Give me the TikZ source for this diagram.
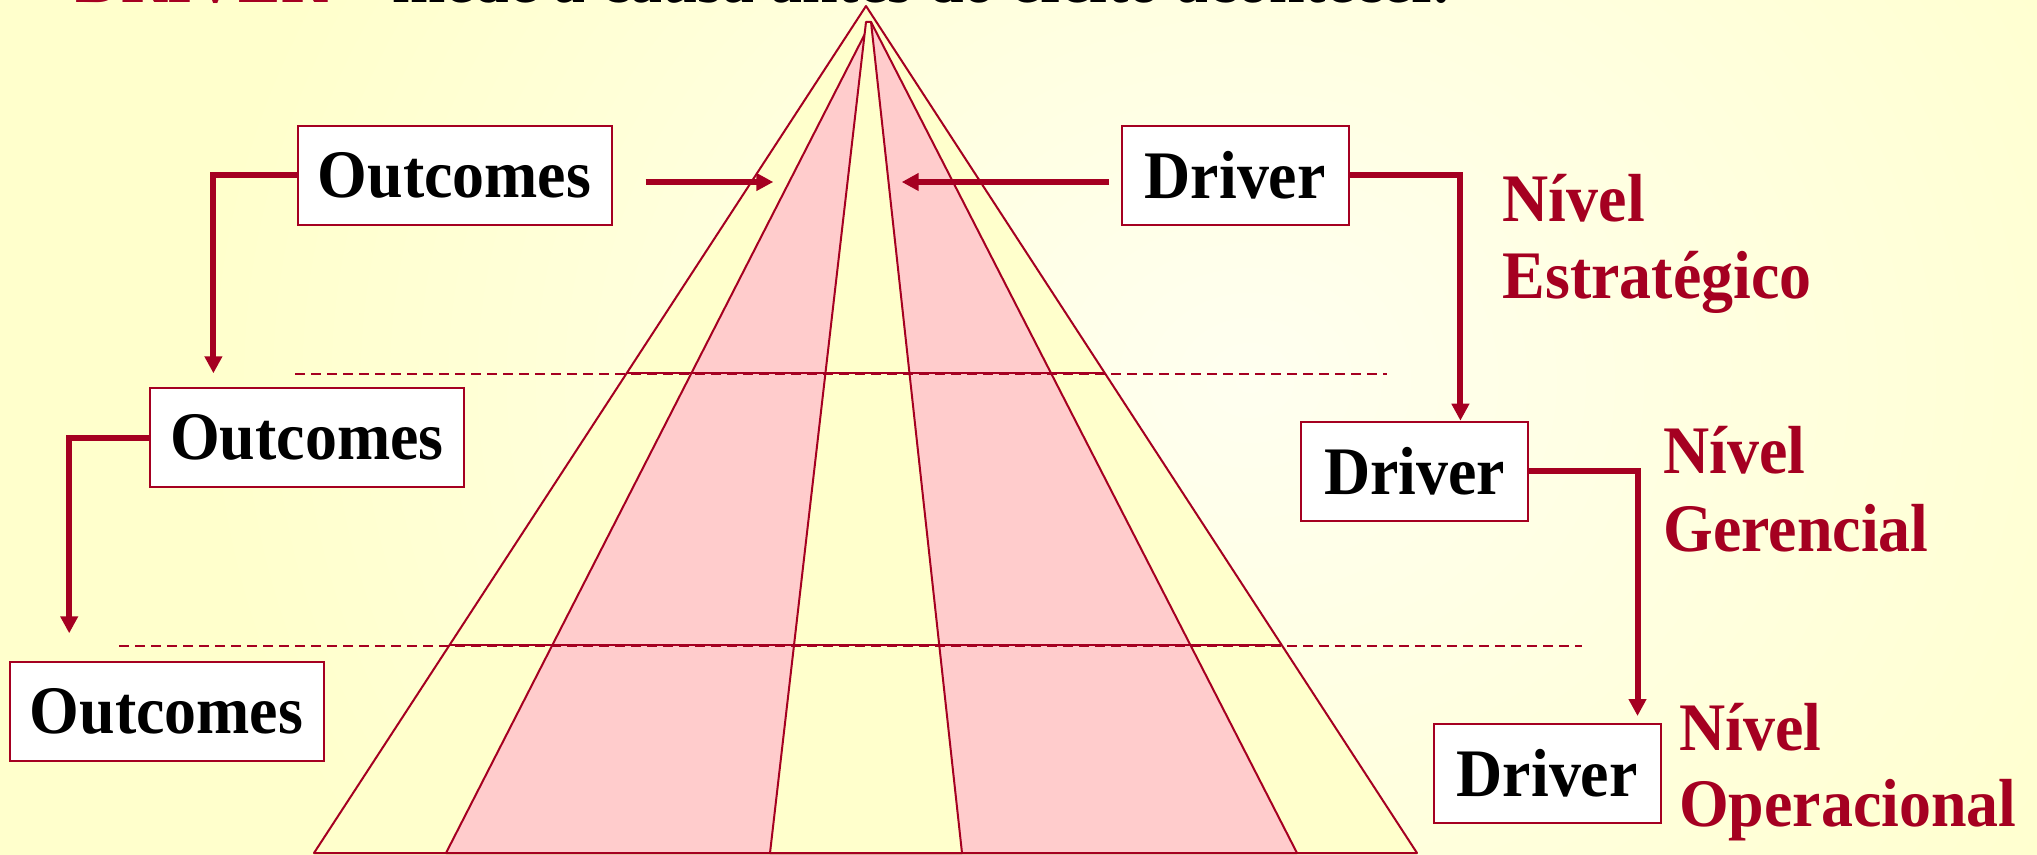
\documentclass[tikz,border=0pt]{standalone}
\usepackage{fontspec}
\setmainfont{Liberation Serif}
\usetikzlibrary{arrows.meta,calc}
\definecolor{dred}{RGB}{165,0,33}
\definecolor{pinkfill}{RGB}{255,204,204}
\definecolor{yelfill}{RGB}{255,255,204}
\definecolor{bgwhite}{RGB}{255,255,240}
\newcommand{\myfont}{\bfseries\fontsize{34}{40}\selectfont}
\newcommand{\txt}[1]{\scalebox{0.94}[1]{#1}}
\begin{document}
\begin{tikzpicture}[x=0.5pt,y=-0.5pt,
  pyr/.style={draw=dred,line width=1pt,line join=round},
  box/.style={draw=dred,line width=1pt,fill=white,inner sep=0pt,font=\myfont},
  obox/.style={box,minimum width=157pt,minimum height=49.5pt},
  dbox/.style={box,minimum width=113.4pt,minimum height=49.5pt},
  conn/.style={draw=dred,line width=3pt,-{Triangle[length=8.5pt,width=8.5pt]}},
  lvl/.style={anchor=base west,inner sep=0pt,text=dred,font=\myfont},
  solidlvl/.style={draw=dred,line width=1pt},
  dashlvl/.style={draw=dred,line width=1pt,dash pattern=on 5pt off 3pt}]
\useasboundingbox (0,0) rectangle (2037,855);
\begin{scope}
\clip (0,0) rectangle (2037,855);
% background
\fill[yelfill] (0,0) rectangle (2037,855);
\shade[inner color=bgwhite,outer color=yelfill] (1250,380) ellipse [x radius=1050, y radius=900];

% pyramid
\coordinate (apex) at (866,6);
\coordinate (bl) at (314,853);
\coordinate (br) at (1417,853);
\filldraw[pyr,fill=yelfill] (apex) -- (bl) -- (br) -- cycle;
\filldraw[pyr,fill=pinkfill] (871,22) -- (446,853) -- (1297,853) -- cycle;
\filldraw[pyr,fill=yelfill] (866,22) -- (871,22) -- (962,853) -- (770,853) -- cycle;

% level lines
\draw[solidlvl] ($(apex)!0.4333!(bl)$) -- ($(apex)!0.4333!(br)$);
\draw[solidlvl] ($(apex)!0.7544!(bl)$) -- ($(apex)!0.7544!(br)$);
\draw[dashlvl] (295,373.5) -- (1387,373.5);
\draw[dashlvl] (119,645.5) -- (1582,645.5);

% boxes
\node[obox] (o1) at (454.5,175.5) {\txt{Outcomes}};
\node[obox] (o2) at (306.8,437.5) {\txt{Outcomes}};
\node[obox] (o3) at (166.5,711.3) {\txt{Outcomes}};
\node[dbox] (d1) at (1235.2,175.5) {\txt{Driver}};
\node[dbox] (d2) at (1414.8,471.2) {\txt{Driver}};
\node[dbox] (d3) at (1547.2,773.2) {\txt{Driver}};

% connector end points
\coordinate (c1) at (213.4,373.3);
\coordinate (c2) at (69.2,633.3);
\coordinate (c3) at (1460.4,0);
\coordinate (c4) at (1637.5,716);
\coordinate (a1s) at (645.7,182);
\coordinate (a1e) at (773.3,182);
\coordinate (a2s) at (1109,182);
\coordinate (a2e) at (901.7,182);

\draw[conn] (o1.west) -| (c1);
\draw[conn] (o2.west) -| (c2);
\draw[conn] (d1.east) -| (c3 |- d2.north);
\draw[conn] (d2.east) -| (c4);
\draw[conn] (a1s) -- (a1e);
\draw[conn] (a2s) -- (a2e);

% level labels
\node[lvl] (n1a) at (1502.4,221.7) {\txt{Nível}};
\node[lvl] (n1b) at (1502.4,298.3) {\txt{Estratégico}};
\node[lvl] (n2a) at (1663,473.3) {\txt{Nível}};
\node[lvl] (n2b) at (1663,551) {\txt{Gerencial}};
\node[lvl] (n3a) at (1678.8,750) {\txt{Nível}};
\node[lvl] (n3b) at (1678.8,826) {\txt{Operacional}};

% title (mostly cut off at the top)
\node[lvl,text=dred] (t1) at (75,2.5) {\txt{DRIVER}};
\node[anchor=base east,inner sep=0pt,font=\myfont] (t2) at (1450,2.5) {\txt{– mede a causa antes do efeito acontecer.}};
\end{scope}
\end{tikzpicture}
\end{document}
